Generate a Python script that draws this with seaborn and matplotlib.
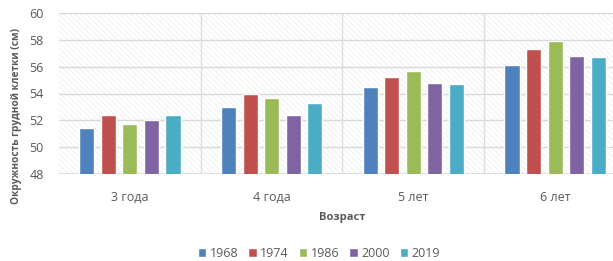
import pandas as pd
import matplotlib.pyplot as plt
import seaborn as sns
from matplotlib.patches import Rectangle

# Data
ages = ["3 года", "4 года", "5 лет", "6 лет"]
years = ["1968", "1974", "1986", "2000", "2019"]
v1968 = [51.4, 53.0, 54.5, 56.1]
v1974 = [52.4, 54.0, 55.2, 57.3]
v1986 = [51.7, 53.7, 55.7, 57.9]
v2000 = [52.0, 52.4, 54.8, 56.8]
v2019 = [52.4, 53.3, 54.7, 56.7]
colors = ["#4F81BD", "#C0504D", "#9BBB59", "#8064A2", "#4BACC6"]

rows = []
for yr, vals in zip(years, [v1968, v1974, v1986, v2000, v2019]):
    for age, v in zip(ages, vals):
        rows.append({"Возраст": age, "Год": yr, "Значение": v})
df = pd.DataFrame(rows)

sns.set_style("white")
plt.rcParams["font.family"] = ["Open Sans", "DejaVu Sans"]
plt.rcParams["hatch.color"] = "#e8e8e8"
plt.rcParams["hatch.linewidth"] = 0.4

fig = plt.figure(figsize=(6.13, 2.61), dpi=100)
ax = fig.add_axes([59 / 613, 87 / 261, 567 / 613, 161 / 261])

# hatched plot background
ax.add_patch(Rectangle((0, 0), 1, 1, transform=ax.transAxes, facecolor="white",
                       hatch="\\\\\\\\\\\\", edgecolor="#e8e8e8", linewidth=0, zorder=0))

sns.barplot(data=df, x="Возраст", y="Значение", hue="Год", palette=colors,
            width=0.76, gap=0.3, ax=ax, zorder=3, saturation=1)

ax.set_ylim(48, 60)
ax.set_xlim(-0.5, 3.5)
ax.set_yticks(range(48, 61, 2))
for y in range(50, 61, 2):
    ax.axhline(y, color="#d9d9d9", lw=1, zorder=1)
for x in [0.5, 1.5, 2.5]:
    ax.axvline(x, color="#dddddd", lw=1, zorder=1)
ax.axhline(48, color="#d9d9d9", lw=1.2, zorder=2)
for s in ax.spines.values():
    s.set_visible(False)

ax.tick_params(axis="y", labelsize=9, labelcolor="#595959", length=0, pad=11)
ax.tick_params(axis="x", labelsize=9, labelcolor="#595959", length=0, pad=12)
ax.set_ylabel("Окружность грудной клетки (см)", fontsize=7.3, fontweight="bold",
              color="#595959")
ax.yaxis.set_label_coords(-0.065, 0.36)
ax.set_xlabel("Возраст", fontsize=8, fontweight="bold", color="#595959", labelpad=6)

handles, labels = ax.get_legend_handles_labels()
ax.legend_.remove()
fig.legend(handles, labels, loc="center", bbox_to_anchor=(0.52, 0.03), ncol=5,
           frameon=False, fontsize=9, handlelength=0.7, handleheight=0.7,
           handletextpad=0.25, columnspacing=0.8, labelcolor="#595959")

fig.savefig("out.png", dpi=100)
